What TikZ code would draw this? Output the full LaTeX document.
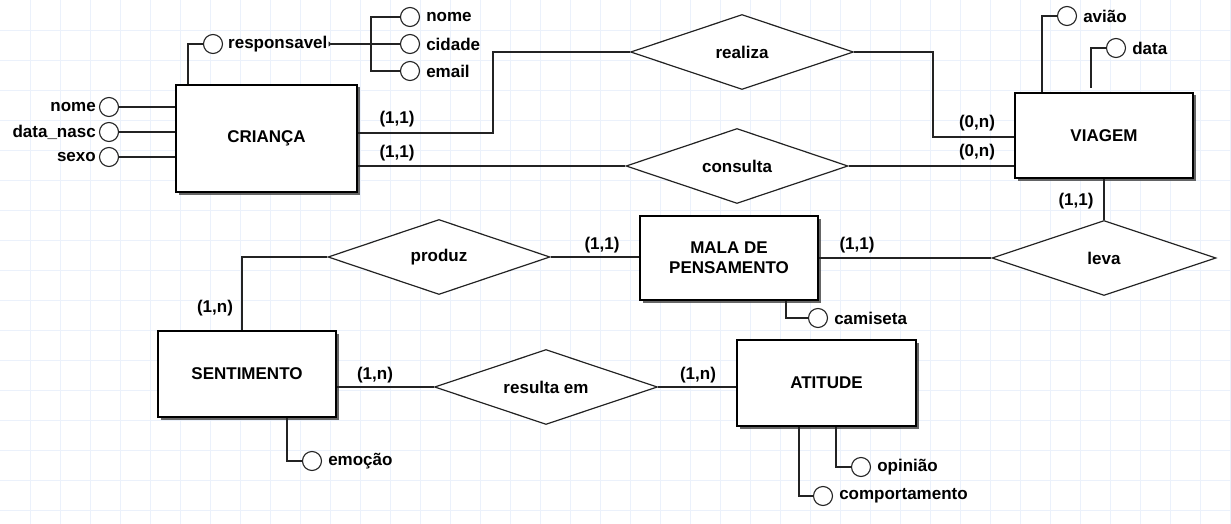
\documentclass[tikz,border=0pt]{standalone}
\usepackage{fontspec}
\setmainfont{Liberation Sans}
\usetikzlibrary{shapes.geometric,shadows,arrows.meta}
\definecolor{gridc}{RGB}{235,241,251}
\definecolor{ln}{RGB}{35,35,35}
\begin{document}
\begin{tikzpicture}[x=1pt,y=-1pt,
  every node/.style={font=\fontsize{17}{20}\selectfont\bfseries},
  entity/.style={draw=black, line width=1.4pt, fill=white, rectangle, inner sep=0pt, align=center,
    drop shadow={shadow xshift=2.5pt,shadow yshift=-2.5pt,fill=black!75,opacity=0.8}},
  rel/.style={draw=ln, line width=1.2pt, fill=white, diamond, aspect=3, inner sep=0pt},
  attr/.style={draw=ln, line width=1.1pt, fill=white, circle, minimum size=19pt, inner sep=0pt},
  lbl/.style={inner sep=1pt, xshift=5pt},
  lbll/.style={inner sep=1pt, xshift=-2pt},
  card/.style={inner sep=1pt},
  conn/.style={draw=ln, line width=1.2pt},
]
\useasboundingbox (0,0) rectangle (1231,524);
\fill[white] (0,0) rectangle (1231,524);
\foreach \i in {30,60,...,1230} \draw[gridc, line width=0.8pt] (\i,0) -- (\i,524);
\foreach \j in {30,60,...,510} \draw[gridc, line width=0.8pt] (0,\j) -- (1231,\j);

% entities
\node[entity, minimum width=181pt, minimum height=107pt] (crianca) at (266.5,138.5) {CRIANÇA};
\node[entity, minimum width=178pt, minimum height=85pt] (viagem) at (1104,135.5) {VIAGEM};
\node[entity, minimum width=178pt, minimum height=84pt] (mala) at (729,258) {MALA DE\\PENSAMENTO};
\node[entity, minimum width=178pt, minimum height=86pt] (sent) at (247,374) {SENTIMENTO};
\node[entity, minimum width=179pt, minimum height=86pt] (atit) at (826.5,383) {ATITUDE};

% relationships
\node[rel, minimum width=223pt, minimum height=75pt] (realiza) at (742,52) {realiza};
\node[rel, minimum width=222pt, minimum height=75pt] (consulta) at (737,166) {consulta};
\node[rel, minimum width=224pt, minimum height=75pt] (leva) at (1104,258) {leva};
\node[rel, minimum width=222pt, minimum height=75pt] (produz) at (439,257) {produz};
\node[rel, minimum width=223pt, minimum height=75pt] (resulta) at (546,387) {resulta em};

% attributes
\node[attr, label={[lbll]left:nome}] (a_nome) at (109,107) {};
\node[attr, label={[lbll]left:data\_nasc}] (a_dn) at (109,132) {};
\node[attr, label={[lbll]left:sexo}] (a_sexo) at (109,157) {};
\node[attr] (a_resp) at (213,44) {};
\node[inner sep=1pt, anchor=west] (t_resp) at (227,44) {responsavel};
\node[attr, label={[lbl]right:nome}] (a_nm2) at (410,17) {};
\node[attr, label={[lbl]right:cidade}] (a_cid) at (410,44) {};
\node[attr, label={[lbl]right:email}] (a_em) at (410,71) {};
\node[attr, label={[lbl]right:avião}] (a_aviao) at (1067,16) {};
\node[attr, label={[lbl]right:data}] (a_data) at (1116,48) {};
\node[attr, label={[lbl]right:camiseta}] (a_cam) at (818,318) {};
\node[attr, label={[lbl]right:emoção}] (a_emo) at (312,461) {};
\node[attr, label={[lbl]right:opinião}] (a_opi) at (861,467) {};
\node[attr, label={[lbl]right:comportamento}] (a_comp) at (823,496) {};

% cardinalities
\node[card] (c1) at (397,119) {(1,1)};
\node[card] (c2) at (397,153) {(1,1)};
\node[card] (c3) at (977,123) {(0,n)};
\node[card] (c4) at (977,152) {(0,n)};
\node[card] (c5) at (1076,201) {(1,1)};
\node[card] (c6) at (857,245) {(1,1)};
\node[card] (c7) at (602,245) {(1,1)};
\node[card] (c8) at (215,308) {(1,n)};
\node[card] (c9) at (375,375) {(1,n)};
\node[card] (c10) at (698,375) {(1,n)};

% junction coordinates
\coordinate (j1) at (493,133);
\coordinate (j2) at (933,137);
\coordinate (j3) at (242,0);
\coordinate (j4) at (188,0);
\coordinate (rb) at (371,44);
\coordinate (v1) at (1042,0);
\coordinate (v2) at (1091,88);
\coordinate (m1) at (786,0);
\coordinate (e1) at (287,0);
\coordinate (o1) at (836,0);
\coordinate (k1) at (799,0);

% relationship connectors
\draw[conn] (crianca.east |- j1) -- (j1) |- (realiza.west);
\draw[conn] (realiza.east) -| (j2) -- (viagem.west |- j2);
\draw[conn] (crianca.east |- consulta.west) -- (consulta.west);
\draw[conn] (consulta.east) -- (viagem.west |- consulta.east);
\draw[conn] (viagem.south) -- (leva.north);
\draw[conn] (mala.east) -- (leva.west);
\draw[conn] (produz.east) -- (mala.west |- produz.east);
\draw[conn] (produz.west) -| (sent.north -| j3);
\draw[conn] (sent.east |- resulta.west) -- (resulta.west);
\draw[conn] (resulta.east) -- (atit.west |- resulta.east);

% attribute connectors
\draw[conn] (a_nome.east) -- (crianca.west |- a_nome.east);
\draw[conn] (a_dn.east) -- (crianca.west |- a_dn.east);
\draw[conn] (a_sexo.east) -- (crianca.west |- a_sexo.east);
\draw[conn] (crianca.north -| j4) |- (a_resp.west);
\draw[conn, {Triangle[reversed,width=5pt,length=3pt]}-] (t_resp.east) -- (rb);
\draw[conn] (a_nm2.west) -| (rb) |- (a_em.west);
\draw[conn] (rb) -- (a_cid.west);
\draw[conn] (viagem.north -| v1) |- (a_aviao.west);
\draw[conn] (v2) |- (a_data.west);
\draw[conn] (mala.south -| m1) |- (a_cam.west);
\draw[conn] (sent.south -| e1) |- (a_emo.west);
\draw[conn] (atit.south -| o1) |- (a_opi.west);
\draw[conn] (atit.south -| k1) |- (a_comp.west);
\end{tikzpicture}
\end{document}
